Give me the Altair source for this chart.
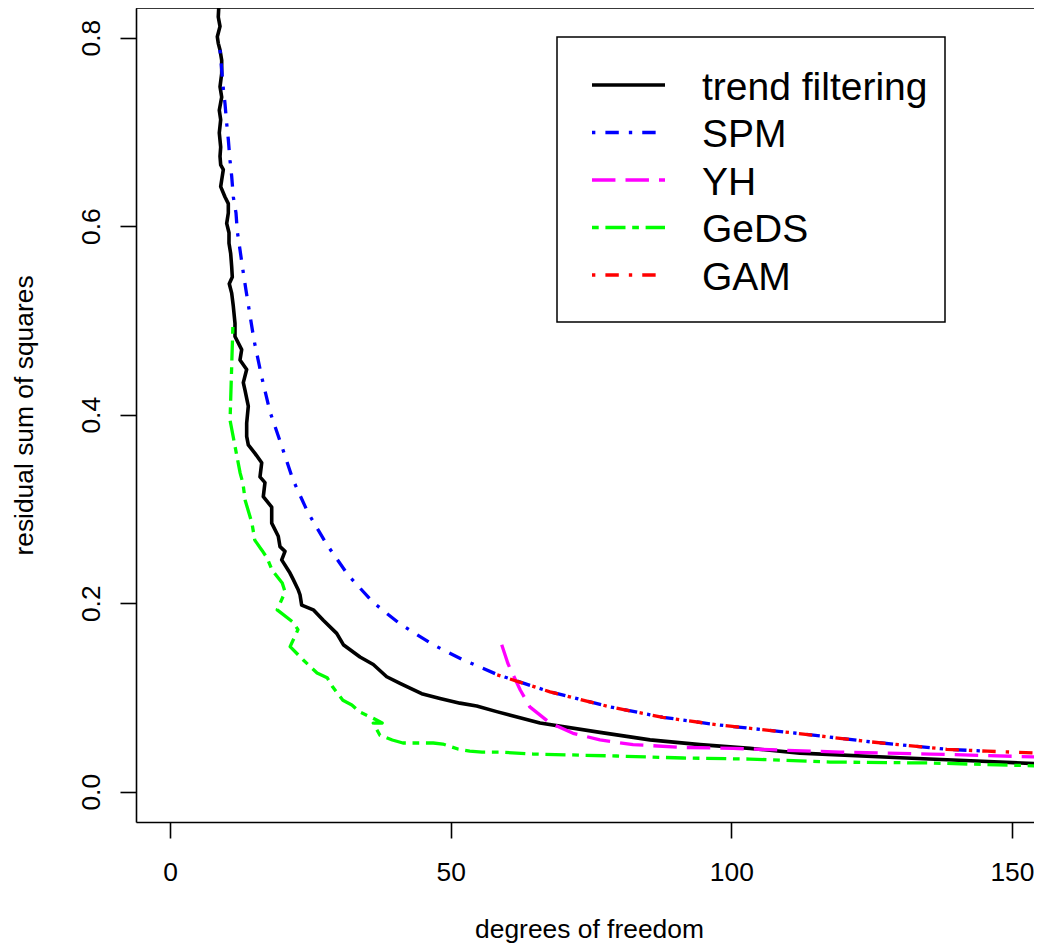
import altair as alt
import pandas as pd

# ---------------- data ----------------
tf_x = [8.8, 8.60, 8.91, 8.43, 8.60, 8.91, 9.21, 9.21, 8.91, 9.21, 8.78, 9.03, 8.78, 9.03, 8.91,
        9.03, 9.50, 9.21, 9.03, 9.80, 10.39, 10.39, 10.10, 10.51, 10.51, 10.81, 10.99, 11.10, 10.56,
        10.99, 11.28, 11.58, 11.58, 12.77, 12.47, 13.66, 13.06, 13.36, 13.95, 13.66, 13.66, 13.95,
        15.14, 16.34, 16.03, 16.92, 16.62, 18.12, 18.12, 19.29, 19.60, 20.49, 19.90, 21.38, 21.97,
        22.86, 23.16, 23.46, 25.53, 27.31, 29.70, 30.88, 33.85, 36.22, 38.61, 40.98, 42.76, 44.84,
        48.10, 51.66, 54.64, 58.20, 65.92, 76.61, 85.52, 94.43, 103.33, 112.24, 130.07, 147.87, 157.0]
tf_y = [0.845, 0.822, 0.812, 0.801, 0.794, 0.787, 0.776, 0.762, 0.748, 0.737, 0.723, 0.713, 0.699,
        0.684, 0.674, 0.665, 0.660, 0.649, 0.642, 0.631, 0.624, 0.614, 0.603, 0.593, 0.582, 0.571,
        0.557, 0.546, 0.539, 0.529, 0.515, 0.497, 0.483, 0.469, 0.458, 0.448, 0.434, 0.426, 0.409,
        0.391, 0.377, 0.368, 0.359, 0.349, 0.334, 0.328, 0.313, 0.302, 0.285, 0.271, 0.260, 0.255,
        0.246, 0.232, 0.225, 0.214, 0.209, 0.198, 0.193, 0.182, 0.168, 0.156, 0.143, 0.135, 0.122,
        0.115, 0.110, 0.104, 0.099, 0.094, 0.091, 0.085, 0.073, 0.063, 0.055, 0.050, 0.046, 0.041,
        0.036, 0.0315, 0.029]

spm_x = [8.91, 9.21, 9.50, 9.80, 10.10, 10.39, 10.69, 10.99, 11.28, 11.76, 12.00, 12.47, 12.95,
         13.54, 14.97, 16.34, 17.82, 19.95, 21.91, 24.59, 27.97, 31.71, 36.17, 40.98, 46.86, 52.20,
         58.44, 67.70, 78.39, 87.83, 97.45, 111.71, 124.71, 138.43, 145.56]
spm_y = [0.787, 0.766, 0.746, 0.730, 0.709, 0.692, 0.670, 0.653, 0.631, 0.614, 0.594, 0.575, 0.555,
         0.532, 0.479, 0.440, 0.403, 0.366, 0.331, 0.296, 0.262, 0.230, 0.201, 0.178, 0.156, 0.140,
         0.124, 0.106, 0.090, 0.079, 0.071, 0.062, 0.053, 0.045, 0.043]

yh_x = [59.1, 60.2, 62.4, 64.1, 67.7, 71.8, 76.6, 82.5, 91.4, 100.3, 119.4, 135.4, 157.0]
yh_y = [0.156, 0.136, 0.108, 0.090, 0.073, 0.062, 0.055, 0.050, 0.047, 0.046, 0.042, 0.040, 0.0365]

geds_x = [11.2, 10.7, 11.6, 12.5, 13.0, 13.4, 14.6, 15.1, 16.4, 17.3, 18.2, 20.0, 20.5, 19.1, 21.9,
          22.8, 21.4, 23.7, 26.2, 28.0, 29.0, 30.8, 32.4, 33.8, 36.2, 37.8, 36.2, 37.4, 39.6, 41.5,
          44.9, 46.9, 48.6, 51.3, 53.4, 55.6, 58.8, 64.7, 79.6, 91.4, 103.3, 117.6, 135.4, 157.0]
geds_y = [0.493, 0.394, 0.366, 0.338, 0.327, 0.309, 0.285, 0.267, 0.256, 0.248, 0.235, 0.2215, 0.212,
          0.193, 0.180, 0.172, 0.154, 0.140, 0.126, 0.121, 0.111, 0.097, 0.092, 0.0846, 0.078, 0.0729,
          0.0729, 0.060, 0.0549, 0.0517, 0.0517, 0.0517, 0.0506, 0.0453, 0.0432, 0.0421, 0.0421,
          0.040, 0.0379, 0.0358, 0.0347, 0.0315, 0.0305, 0.027]

gam_x = [58.3, 67.7, 78.4, 87.8, 97.5, 111.7, 124.7, 138.4, 145.6, 157.0]
gam_y = [0.124, 0.106, 0.090, 0.079, 0.071, 0.062, 0.053, 0.045, 0.043, 0.0405]

series_names = ["trend filtering", "SPM", "YH", "GeDS", "GAM"]
x_ticks = [0, 50, 100, 150]
y_ticks = [0.0, 0.2, 0.4, 0.6, 0.8]

# ---------------- styles ----------------
U = 3.35  # R dash unit (px)
STYLE = {
    "trend filtering": dict(color="#000000", dash=None, width=3.6),
    "SPM": dict(color="#0000FF", dash=[1 * U, 3 * U, 4 * U, 3 * U], width=3.3),
    "YH": dict(color="#FF00FF", dash=[7 * U, 3 * U], width=3.3),
    "GeDS": dict(color="#00FF00", dash=[2 * U, 2 * U, 6 * U, 2 * U], width=3.3),
    "GAM": dict(color="#FF0000", dash=[1 * U, 3 * U, 4 * U, 3 * U], width=3.3),
}
FONT = "Liberation Sans"
AXFS = 26.4
PX_PER_X = 5.613
W, H = 898, 814
X_DOM = [-6.057, -6.057 + W / PX_PER_X]
Y_DOM = [-0.0321, 0.8315]

xs = alt.Scale(domain=X_DOM, nice=False, zero=False)
ys = alt.Scale(domain=Y_DOM, nice=False, zero=False)

x_axis = alt.Axis(values=x_ticks, format="d", tickSize=16, labelPadding=42,
                  labelBaseline="alphabetic", grid=False, domainColor="black",
                  tickColor="black", domainWidth=1.6, tickWidth=1.6, labelColor="black",
                  labelFont=FONT, labelFontSize=AXFS, labelFlush=False, labelOverlap=False,
                  title="degrees of freedom", titleFont=FONT, titleFontSize=AXFS,
                  titleFontWeight="normal", titleColor="black", titleY=115,
                  titleX=453, titleBaseline="alphabetic")
y_axis = alt.Axis(values=y_ticks, format=".1f", tickSize=16, labelAngle=270,
                  labelAlign="center", labelBaseline="alphabetic", labelPadding=21,
                  grid=False, domainColor="black", tickColor="black", domainWidth=1.6,
                  tickWidth=1.6, labelColor="black", labelFont=FONT, labelFontSize=AXFS,
                  labelFlush=False, labelOverlap=False,
                  title="residual sum of squares", titleFont=FONT, titleFontSize=AXFS,
                  titleFontWeight="normal", titleColor="black", titleAngle=270,
                  titleX=-104, titleY=H / 2, titleBaseline="alphabetic", titleAlign="center")

data = {
    "trend filtering": (tf_x, tf_y),
    "SPM": (spm_x, spm_y),
    "YH": (yh_x, yh_y),
    "GeDS": (geds_x, geds_y),
    "GAM": (gam_x, gam_y),
}

layers = []
for name in series_names:
    xv, yv = data[name]
    df = pd.DataFrame({"x": xv, "y": yv, "i": list(range(len(xv)))})
    st = STYLE[name]
    mk = dict(color=st["color"], strokeWidth=st["width"], clip=True, strokeJoin="round")
    if st["dash"]:
        mk["strokeDash"] = st["dash"]
    layers.append(
        alt.Chart(df).mark_line(**mk).encode(
            x=alt.X("x:Q", scale=xs, axis=x_axis),
            y=alt.Y("y:Q", scale=ys, axis=y_axis),
            order=alt.Order("i:Q"),
        )
    )

# top frame line (R box)
one = pd.DataFrame({"k": [0]})
layers.append(
    alt.Chart(one).mark_rule(color="black", strokeWidth=1.6).encode(
        x=alt.value(0), x2=alt.value(W), y=alt.value(0)
    )
)

# legend box
LX0, LX1, LY0, LY1 = 421, 809, 29, 314
layers.append(
    alt.Chart(one).mark_rect(fill="white", stroke="black", strokeWidth=1.5).encode(
        x=alt.value(LX0), x2=alt.value(LX1), y=alt.value(LY0), y2=alt.value(LY1)
    )
)
ROW0, ROWSTEP = 77, 47.5
for k, name in enumerate(series_names):
    st = STYLE[name]
    ry = ROW0 + k * ROWSTEP
    mk = dict(color=st["color"], strokeWidth=st["width"])
    if st["dash"]:
        mk["strokeDash"] = st["dash"]
    lab = pd.DataFrame({"name": [name]})
    layers.append(
        alt.Chart(lab).mark_rule(**mk).encode(
            x=alt.value(456), x2=alt.value(529), y=alt.value(ry)
        )
    )
    layers.append(
        alt.Chart(lab).mark_text(align="left", baseline="alphabetic", font=FONT,
                                 fontSize=39, color="black").encode(
            x=alt.value(566), y=alt.value(ry + 14.5), text=alt.Text("name:N")
        )
    )

chart = (
    alt.layer(*layers)
    .properties(width=W, height=H,
                padding={"left": 128, "top": 0, "right": 0, "bottom": 124},
                autosize=alt.AutoSizeParams(type="none"))
    .configure_view(stroke=None)
    .configure(background="white")
)

chart.save("out.html", embed_options={"renderer": "svg", "actions": False})
